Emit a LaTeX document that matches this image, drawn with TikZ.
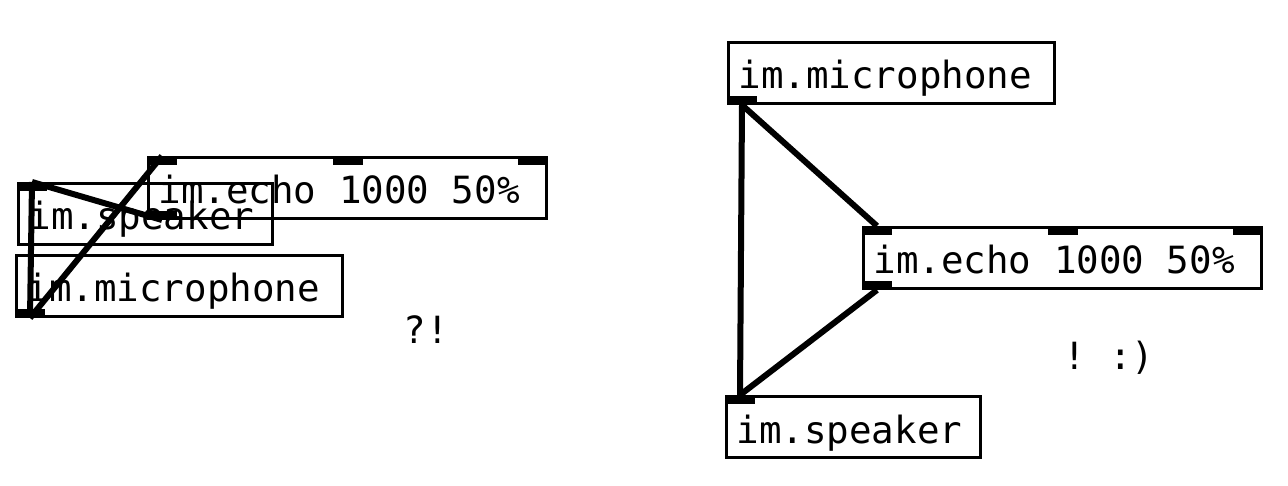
\documentclass[tikz,border=0pt]{standalone}
\usepackage{fontspec}
\setmonofont{DejaVu Sans Mono}
\usepackage{tikz}
\usetikzlibrary{positioning}
\newcommand{\pdfont}{\ttfamily\fontsize{37.5}{40}\selectfont\setlength{\spaceskip}{0.602em}}
\tikzset{obj/.style={rectangle,draw=black,line width=3pt,inner xsep=10pt,inner ysep=0pt,minimum height=61pt,text height=38pt,text depth=6pt,font=\pdfont,execute at begin node={\setlength{\spaceskip}{0.602em}}}}
\tikzset{port/.style={rectangle,fill=black,inner sep=0pt,outer sep=0pt,minimum width=30pt,minimum height=9pt}}
\tikzset{wire/.style={line width=6pt}}
\tikzset{note/.style={inner sep=0pt,font=\pdfont}}

\begin{document}
\begin{tikzpicture}[x=1pt,y=-1pt]
    \useasboundingbox (0,0) rectangle (1288,486);
    % left: the messy patch
    \node[obj, anchor=north west, text width=378pt] (echoL) at (147,156) {im.echo 1000 50\%};
    \node[obj, anchor=north west, text width=234pt] (spkL) at (17,182) {im.speaker};
    \node[obj, anchor=north west, text width=306pt] (micL) at (15,254) {im.microphone};
    \node[port, anchor=north west] (echoL-in1) at (echoL.north west) {};
    \node[port, anchor=north] (echoL-in2) at (echoL.north) {};
    \node[port, anchor=north east] (echoL-in3) at (echoL.north east) {};
    \node[port, anchor=south west] (echoL-out) at (echoL.south west) {};
    \node[port, anchor=north west] (spkL-in) at (spkL.north west) {};
    \node[port, anchor=south west] (micL-out) at (micL.south west) {};
    \node[note] (qL) at (426,330) {?!};
    % right: the tidy patch
    \node[obj, anchor=north west, text width=306pt] (micR) at (727,41) {im.microphone};
    \node[obj, anchor=north west, text width=378pt] (echoR) at (862,226) {im.echo 1000 50\%};
    \node[obj, anchor=north west, text width=234pt] (spkR) at (725,395) {im.speaker};
    \node[port, anchor=south west] (micR-out) at (micR.south west) {};
    \node[port, anchor=north west] (echoR-in1) at (echoR.north west) {};
    \node[port, anchor=north] (echoR-in2) at (echoR.north) {};
    \node[port, anchor=north east] (echoR-in3) at (echoR.north east) {};
    \node[port, anchor=south west] (echoR-out) at (echoR.south west) {};
    \node[port, anchor=north west] (spkR-in) at (spkR.north west) {};
    \node[note] (qR) at (1109,358) {! :)};
    % wires
    \draw[wire] (micL-out.south) -- (echoL-in1.north);
    \draw[wire] (micL-out.south) -- (spkL-in.north);
    \draw[wire] (echoL-out.south) -- (spkL-in.north);
    \draw[wire] (micR-out.south) -- (echoR-in1.north);
    \draw[wire] (micR-out.south) -- (spkR-in.north);
    \draw[wire] (echoR-out.south) -- (spkR-in.north);
\end{tikzpicture}
\end{document}
